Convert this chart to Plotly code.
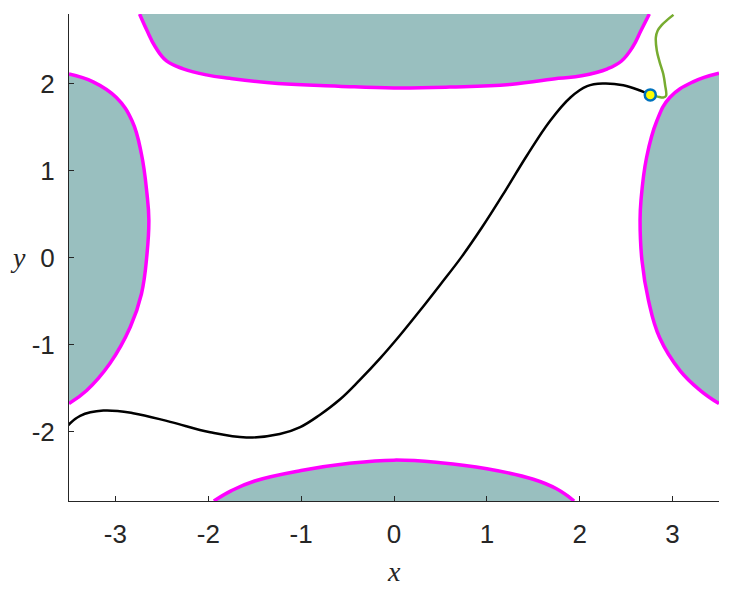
import plotly.graph_objects as go

# Trajectory (black)
traj_x = [-3.51, -3.38, -3.13, -2.81, -2.41, -1.98, -1.59, -1.23, -1.01, -0.80, -0.58, -0.37, -0.15, 0.06, 0.28, 0.50, 0.73, 0.95, 1.20, 1.43, 1.68, 1.90, 2.08, 2.25, 2.47, 2.65, 2.76]
traj_y = [-1.93, -1.82, -1.76, -1.79, -1.89, -2.01, -2.07, -2.03, -1.95, -1.81, -1.63, -1.41, -1.16, -0.90, -0.61, -0.31, 0.01, 0.35, 0.77, 1.17, 1.57, 1.84, 1.97, 2.00, 1.98, 1.92, 1.87]

# Continuation (green)
cont_x = [2.76, 2.84, 2.90, 2.93, 2.92, 2.90, 2.86, 2.83, 2.82, 2.84, 2.88, 2.94, 3.01]
cont_y = [1.87, 1.85, 1.84, 1.86, 1.98, 2.11, 2.25, 2.38, 2.53, 2.61, 2.67, 2.73, 2.79]

# Current point
pt_x = [2.76]
pt_y = [1.87]

# Obstacle boundaries
top_x = [-2.74, -2.66, -2.57, -2.45, -2.27, -2.02, -1.77, -1.25, -0.60, 0.00, 0.60, 1.25, 1.77, 2.02, 2.30, 2.45, 2.57, 2.66, 2.75]
top_y = [2.80, 2.61, 2.42, 2.26, 2.17, 2.10, 2.06, 2.00, 1.97, 1.95, 1.96, 1.99, 2.06, 2.09, 2.17, 2.26, 2.42, 2.61, 2.80]

bot_x = [-1.94, -1.75, -1.50, -1.00, -0.50, 0.00, 0.50, 1.00, 1.50, 1.75, 1.94]
bot_y = [-2.80, -2.68, -2.57, -2.45, -2.37, -2.33, -2.36, -2.43, -2.55, -2.66, -2.80]

left_x = [-3.50, -3.24, -2.99, -2.82, -2.72, -2.66, -2.64, -2.66, -2.72, -2.84, -3.06, -3.31, -3.50]
left_y = [2.11, 2.02, 1.84, 1.57, 1.19, 0.73, 0.43, 0.04, -0.42, -0.80, -1.22, -1.53, -1.68]

right_x = [3.50, 3.22, 2.97, 2.83, 2.72, 2.66, 2.65, 2.67, 2.74, 2.86, 3.08, 3.30, 3.50]
right_y = [2.12, 2.02, 1.84, 1.57, 1.15, 0.66, 0.43, -0.03, -0.49, -0.92, -1.30, -1.53, -1.68]

x_ticks = [-3, -2, -1, 0, 1, 2, 3]
x_ticktext = ["-3", "-2", "-1", "0", "1", "2", "3"]
y_ticks = [-2, -1, 0, 1, 2]
y_ticktext = ["-2", "-1", "0", "1", "2"]

XMIN, XMAX, YMIN, YMAX = -3.5, 3.5, -2.8, 2.8
FILL = "rgb(153,191,191)"
MAG = "#FF00FF"
SM = 1.2

fig = go.Figure()

# fill polygons extend beyond the axes (clipped by the plot area)
regions = [
    (top_x, top_y, [top_x[-1] + 0.05, top_x[0] - 0.05], [YMAX + 0.6, YMAX + 0.6]),
    (bot_x, bot_y, [bot_x[-1] + 0.05, bot_x[0] - 0.05], [YMIN - 0.6, YMIN - 0.6]),
    (left_x, left_y, [XMIN - 0.6, XMIN - 0.6], [left_y[-1] - 0.05, left_y[0] + 0.05]),
    (right_x, right_y, [XMAX + 0.6, XMAX + 0.6], [right_y[-1] - 0.05, right_y[0] + 0.05]),
]
for lx, ly, ex, ey in regions:
    fig.add_trace(go.Scatter(x=lx + ex, y=ly + ey, mode="lines", fill="toself",
                             fillcolor=FILL, line=dict(width=0, color=FILL, shape="spline", smoothing=SM),
                             hoverinfo="skip", showlegend=False))
for lx, ly, ex, ey in regions:
    fig.add_trace(go.Scatter(x=lx, y=ly, mode="lines",
                             line=dict(width=3.5, color=MAG, shape="spline", smoothing=SM),
                             showlegend=False))

fig.add_trace(go.Scatter(x=traj_x, y=traj_y, mode="lines",
                         line=dict(width=2.5, color="black", shape="spline", smoothing=1.1),
                         showlegend=False))
fig.add_trace(go.Scatter(x=cont_x, y=cont_y, mode="lines",
                         line=dict(width=2.5, color="#77AC30", shape="spline", smoothing=1.0),
                         showlegend=False))
fig.add_trace(go.Scatter(x=pt_x, y=pt_y, mode="markers",
                         marker=dict(size=11, color="yellow", line=dict(width=2.5, color="#0072BD")),
                         showlegend=False, cliponaxis=False))

axis_common = dict(showgrid=False, zeroline=False, showline=True, linecolor="#262626",
                   linewidth=1, ticks="inside", ticklen=5, tickcolor="#262626",
                   tickfont=dict(family="Liberation Sans, Arial", size=26, color="#262626"),
                   mirror=False, automargin=False)

fig.update_layout(
    width=732, height=587,
    margin=dict(l=61, r=21, t=6, b=94),
    plot_bgcolor="white", paper_bgcolor="white",
    xaxis=dict(range=[XMIN, XMAX], tickvals=x_ticks, ticktext=x_ticktext,
               ticklabelstandoff=10, **axis_common),
    yaxis=dict(range=[YMIN, YMAX], tickvals=y_ticks, ticktext=y_ticktext,
               ticklabelstandoff=8, **axis_common),
    annotations=[
        dict(text="<i>x</i>", x=0, y=0, xref="x", yref="paper", yshift=-88,
             showarrow=False, font=dict(family="Liberation Serif", size=28, color="#262626")),
        dict(text="<i>y</i>", x=0, y=0, xref="paper", yref="y", xshift=-61,
             showarrow=False, font=dict(family="Liberation Serif", size=28, color="#262626")),
    ],
)

fig.write_html("out.html")
